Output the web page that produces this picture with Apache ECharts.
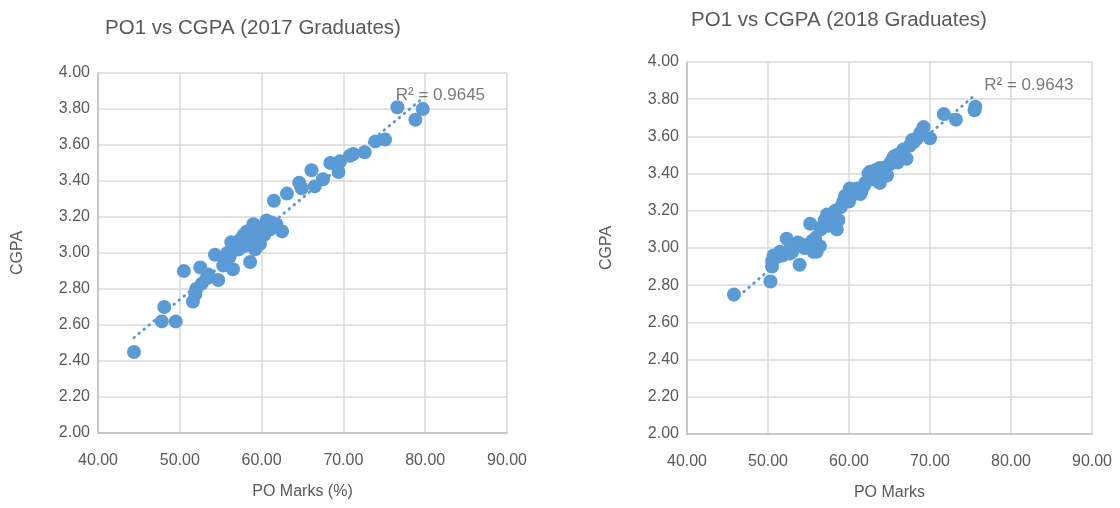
<!DOCTYPE html>
<html>
<head>
<meta charset="utf-8">
<script src="https://cdn.jsdelivr.net/npm/echarts@6/dist/echarts.min.js"></script>
<style>html,body{margin:0;padding:0;background:#fff;}#c{width:1120px;height:508px;}</style>
</head>
<body>
<div id="c"></div>
<script>
// 2017 graduates: [PO marks (%), CGPA]
const data2017 = [
  [44.4,2.45],[47.8,2.62],[48.1,2.70],[49.5,2.62],[50.5,2.90],[51.6,2.73],[51.9,2.77],
  [52.0,2.80],[52.5,2.92],[52.7,2.83],[53.3,2.86],[53.5,2.88],[54.3,2.99],[54.7,2.85],
  [55.3,2.93],[55.5,2.95],[55.8,3.00],[56.1,2.98],[56.3,3.06],[56.5,2.91],[56.8,3.02],
  [57.0,3.06],[57.2,3.02],[57.5,3.08],[57.8,3.10],[58.0,3.04],[58.2,3.12],[58.5,3.08],
  [58.6,2.95],[59.0,3.16],[59.2,3.02],[59.3,3.12],[59.5,3.10],[59.8,3.05],[60.0,3.14],
  [60.3,3.10],[60.6,3.18],[60.8,3.15],[61.0,3.13],[61.2,3.17],[61.5,3.29],[61.8,3.16],
  [62.5,3.12],[63.1,3.33],[64.6,3.39],[64.9,3.36],[66.1,3.46],[66.5,3.37],[67.5,3.41],
  [68.4,3.50],[69.4,3.45],[69.6,3.51],[70.8,3.54],[71.2,3.55],[72.6,3.56],[73.9,3.62],
  [75.1,3.63],[76.6,3.81],[78.8,3.74],[79.7,3.80]
];
// 2018 graduates: [PO marks, CGPA]
const data2018 = [
  [45.8,2.75],[50.3,2.82],[50.5,2.90],[50.5,2.93],[50.7,2.96],[51.0,2.95],[51.5,2.98],
  [51.8,2.96],[52.3,3.05],[52.7,2.97],[52.8,3.00],[53.0,2.98],[53.7,3.03],[53.9,2.91],
  [54.0,3.02],[54.5,3.00],[55.0,3.02],[55.2,3.13],[55.6,2.98],[55.8,3.05],[56.0,2.98],
  [56.4,3.01],[56.5,3.10],[56.8,3.12],[57.0,3.15],[57.3,3.18],[57.5,3.12],[57.8,3.16],
  [58.0,3.18],[58.3,3.20],[58.5,3.10],[58.7,3.15],[59.0,3.22],[59.3,3.25],[59.5,3.28],
  [60.0,3.25],[60.1,3.32],[60.3,3.28],[60.5,3.30],[61.0,3.32],[61.4,3.29],[61.5,3.30],
  [61.8,3.33],[62.0,3.35],[62.4,3.40],[62.6,3.41],[62.8,3.37],[63.0,3.38],[63.3,3.42],
  [63.6,3.36],[63.8,3.43],[63.8,3.35],[64.0,3.40],[64.3,3.43],[64.7,3.39],[65.0,3.45],
  [65.3,3.47],[65.5,3.49],[65.9,3.50],[66.0,3.46],[66.3,3.50],[66.7,3.53],[67.1,3.48],
  [67.5,3.55],[67.8,3.58],[68.0,3.57],[68.4,3.59],[68.8,3.62],[69.2,3.65],[70.0,3.59],
  [71.7,3.72],[73.2,3.69],[75.5,3.74],[75.6,3.76]
];
// Trendline endpoints
const trend2017 = [[44.4,2.53],[79.7,3.86]];
const trend2018 = [[45.8,2.72],[75.5,3.82]];
const r2Text = ['R² = 0.9645','R² = 0.9643'];
const r2Pos = [[76.4,3.878],[76.7,3.876]];
const titles = ['PO1 vs CGPA (2017 Graduates)','PO1 vs CGPA (2018 Graduates)'];
const xNames = ['PO Marks (%)','PO Marks'];
const yName = 'CGPA';

const FONT = 'Liberation Sans';
const TXT = '#595959';
const BLUE = '#5b9bd5';
const chart = echarts.init(document.getElementById('c'), null, {renderer:'canvas'});

function xAxis(i){
  return {type:'value', gridIndex:i, min:40, max:90, interval:10,
    name:xNames[i], nameLocation:'middle', nameGap:51,
    nameTextStyle:{color:TXT, fontFamily:FONT, fontSize:16},
    axisLine:{show:true, lineStyle:{color:'#bfbfbf', width:1.5}},
    axisTick:{show:false},
    axisLabel:{color:TXT, fontFamily:FONT, fontSize:16, margin:20, formatter:v=>v.toFixed(2)},
    splitLine:{show:true, lineStyle:{color:'#d9d9d9', width:1.5}}};
}
function yAxis(i){
  return {type:'value', gridIndex:i, min:2, max:4, interval:0.2,
    name:yName, nameLocation:'middle', nameGap:72, nameRotate:90,
    nameTextStyle:{color:TXT, fontFamily:FONT, fontSize:16},
    axisLine:{show:true, lineStyle:{color:'#bfbfbf', width:1.5}},
    axisTick:{show:false},
    axisLabel:{color:TXT, fontFamily:FONT, fontSize:16, margin:8, formatter:v=>v.toFixed(2)},
    splitLine:{show:true, lineStyle:{color:'#d9d9d9', width:1.5}}};
}
function trendSeries(i, d){
  return {type:'line', xAxisIndex:i, yAxisIndex:i, data:d, symbol:'none', silent:true, z:1,
    lineStyle:{color:BLUE, width:3, type:[0.5,6], cap:'round'}};
}
function scatterSeries(i, d){
  return {type:'scatter', xAxisIndex:i, yAxisIndex:i, data:d, symbolSize:14, z:2,
    itemStyle:{color:BLUE, opacity:1}};
}
function labelSeries(i){
  return {type:'scatter', xAxisIndex:i, yAxisIndex:i, data:[r2Pos[i]], symbolSize:0, z:3, silent:true,
    label:{show:true, position:'right', distance:0, formatter:r2Text[i],
      color:TXT, fontFamily:FONT, fontSize:17}};
}

chart.setOption({
  animation:false,
  backgroundColor:'#fff',
  title:[
    {text:titles[0], left:248, top:13, textAlign:'center', textStyle:{color:TXT, fontFamily:FONT, fontSize:20.5, fontWeight:'normal'}},
    {text:titles[1], left:834, top:5, textAlign:'center', textStyle:{color:TXT, fontFamily:FONT, fontSize:20.5, fontWeight:'normal'}}
  ],
  grid:[
    {left:98, top:73, width:409, height:360},
    {left:687, top:62, width:405, height:372}
  ],
  xAxis:[xAxis(0), xAxis(1)],
  yAxis:[yAxis(0), yAxis(1)],
  series:[
    trendSeries(0, trend2017), scatterSeries(0, data2017), labelSeries(0),
    trendSeries(1, trend2018), scatterSeries(1, data2018), labelSeries(1)
  ]
});
</script>
</body>
</html>
